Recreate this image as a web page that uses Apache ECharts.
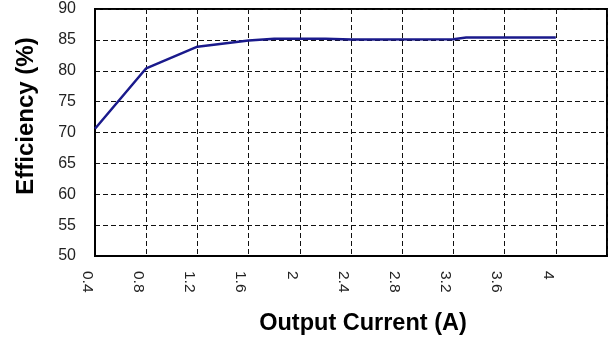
<!DOCTYPE html>
<html>
<head>
<meta charset="utf-8">
<script src="https://cdn.jsdelivr.net/npm/echarts@6/dist/echarts.min.js"></script>
<style>
html,body{margin:0;padding:0;background:#fff;}
#c{width:609px;height:341px;}
</style>
</head>
<body>
<div id="c"></div>
<script>
var currentA = [0.4, 0.8, 1.2, 1.6, 1.8, 2.2, 2.4, 3.2, 3.3, 4.0];
var efficiency = [70.6, 80.4, 83.9, 84.9, 85.2, 85.2, 85.05, 85.1, 85.4, 85.4];
var xTitle = 'Output Current (A)';
var yTitle = 'Efficiency (%)';

var chart = echarts.init(document.getElementById('c'), null, {renderer: 'canvas'});
var pts = currentA.map(function (x, i) { return [x, efficiency[i]]; });
var dash = {color: '#111', width: 1, type: [5, 3]};
chart.setOption({
  animation: false,
  backgroundColor: '#fff',
  grid: {left: 95, right: 2, top: 9, bottom: 82, show: true, borderColor: '#000', borderWidth: 2, backgroundColor: 'transparent'},
  xAxis: {
    type: 'value', min: 0.4, max: 4.4, interval: 0.4,
    name: xTitle, nameLocation: 'middle', nameGap: 56,
    nameTextStyle: {fontFamily: 'Liberation Sans', fontWeight: 'bold', fontSize: 23.5, color: '#000', padding: [0, 0, 0, 24]},
    axisLine: {show: true, lineStyle: {color: '#000', width: 2}},
    axisTick: {show: false},
    splitLine: {show: true, lineStyle: dash},
    axisLabel: {
      rotate: -90, margin: 15, showMaxLabel: false,
      fontFamily: 'Liberation Sans', fontSize: 15.5, color: '#222',
      verticalAlign: 'top'
    }
  },
  yAxis: {
    type: 'value', min: 50, max: 90, interval: 5,
    name: yTitle, nameLocation: 'middle', nameGap: 57,
    nameTextStyle: {fontFamily: 'Liberation Sans', fontWeight: 'bold', fontSize: 24, color: '#000', padding: [0, 0, 0, 33]},
    axisLine: {show: true, lineStyle: {color: '#000', width: 2}},
    axisTick: {show: false},
    splitLine: {show: true, lineStyle: dash},
    axisLabel: {margin: 19, fontFamily: 'Liberation Sans', fontSize: 16, color: '#222'}
  },
  series: [{
    type: 'line', data: pts, showSymbol: false, symbol: 'none',
    lineStyle: {color: '#1a1a8c', width: 2.5}
  }]
});
</script>
</body>
</html>
